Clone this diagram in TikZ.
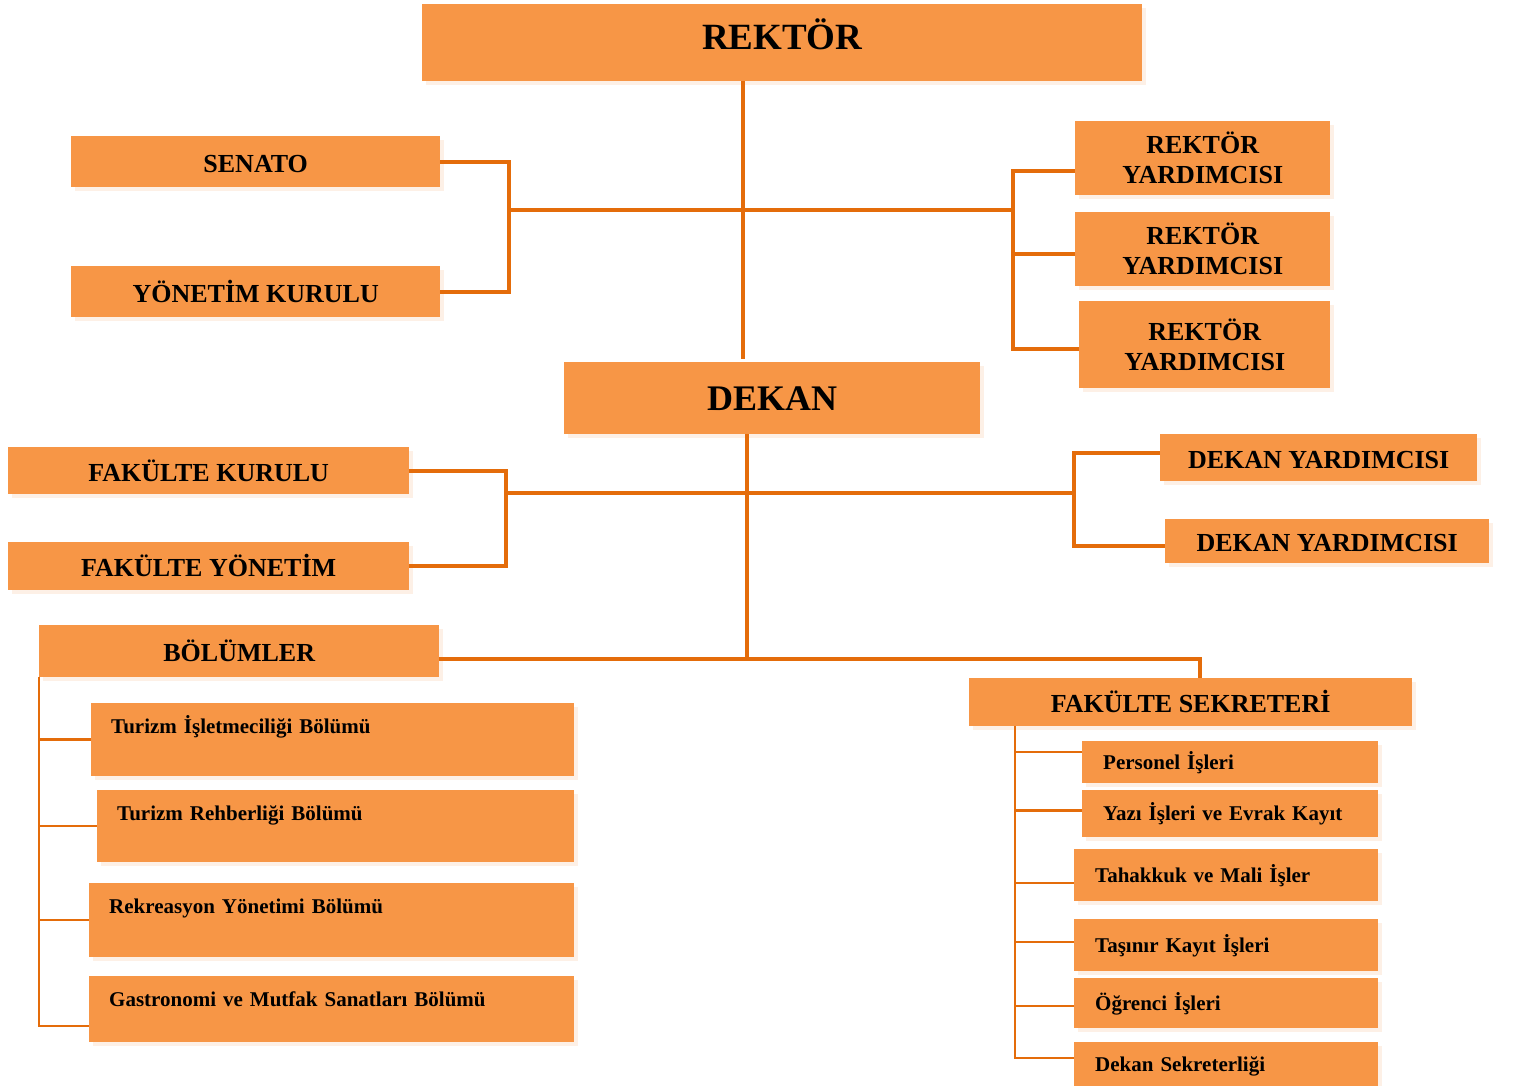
\documentclass[tikz,border=0pt]{standalone}
\usepackage{fontspec}
\setmainfont{Liberation Serif}
\usetikzlibrary{calc,shadows}
\definecolor{boxorange}{HTML}{F79646}
\definecolor{lineorange}{HTML}{E46C0A}
\definecolor{shadowpeach}{HTML}{FDF0E6}
\tikzset{
  unit/.style={fill=boxorange, anchor=north west, inner sep=0pt,
    general shadow={fill=shadowpeach, shadow xshift=4pt, shadow yshift=-4pt},
    font=\bfseries\fontsize{26}{30}\selectfont, align=center},
  caps/.style={text height=21pt, text depth=0pt},
  boxsize/.style 2 args={minimum width=#1pt, minimum height=#2pt},
  bolum/.style 2 args={unit, font=\bfseries\fontsize{21}{25}\selectfont,
    align=left, inner xsep=20pt, text width=#1pt, text height=30pt, text depth=#2pt},
  office/.style 2 args={unit, font=\bfseries\fontsize{21}{25}\selectfont,
    align=left, inner xsep=21pt, text width=#1pt, minimum height=#2pt,
    text height=14pt, text depth=0pt},
  trunk/.style={draw=lineorange, line width=4pt},
  twig/.style={draw=lineorange, line width=2.5pt}
}

\begin{document}
\begin{tikzpicture}[x=1pt,y=-1pt]
\useasboundingbox (0,0) rectangle (1515,1086);

% top level
\node[unit, boxsize={720}{77}, font=\bfseries\fontsize{37}{40}\selectfont,
  text height=45pt, text depth=32pt] (rektor) at (422,4) {REKTÖR};
\node[unit, caps, boxsize={369}{51}] (senato) at (71,136) {SENATO};
\node[unit, caps, boxsize={369}{51}] (ykurul) at (71,266) {YÖNETİM KURULU};
\node[unit, boxsize={255}{74}] (ry1) at (1075,121) {REKTÖR\\YARDIMCISI};
\node[unit, boxsize={255}{74}] (ry2) at (1075,212) {REKTÖR\\YARDIMCISI};
\node[unit, boxsize={251}{87}] (ry3) at (1079,301) {REKTÖR\\YARDIMCISI};

% faculty level
\node[unit, boxsize={416}{72}, font=\bfseries\fontsize{36}{40}\selectfont,
  text height=24pt, text depth=0pt] (dekan) at (564,362) {DEKAN};
\node[unit, caps, boxsize={401}{47}] (fkurul) at (8,447) {FAKÜLTE KURULU};
\node[unit, caps, boxsize={401}{48}] (fyon) at (8,542) {FAKÜLTE YÖNETİM};
\node[unit, caps, boxsize={317}{47}] (dy1) at (1160,434) {DEKAN YARDIMCISI};
\node[unit, caps, boxsize={324}{44}] (dy2) at (1165,519) {DEKAN YARDIMCISI};

% departments
\node[unit, caps, boxsize={400}{52}] (bolumler) at (39,625) {BÖLÜMLER};
\node[bolum={443}{43}] (b1) at (91,703) {Turizm İşletmeciliği Bölümü};
\node[bolum={437}{42}] (b2) at (97,790) {Turizm Rehberliği Bölümü};
\node[bolum={445}{44}] (b3) at (89,883) {Rekreasyon Yönetimi Bölümü};
\node[bolum={445}{36}] (b4) at (89,976) {Gastronomi ve Mutfak Sanatları Bölümü};

% secretary
\node[unit, caps, boxsize={443}{48}] (fsek) at (969,678) {FAKÜLTE SEKRETERİ};
\node[office={254}{42}] (s1) at (1082,741) {Personel İşleri};
\node[office={254}{47}] (s2) at (1082,790) {Yazı İşleri ve Evrak Kayıt};
\node[office={262}{52}] (s3) at (1074,849) {Tahakkuk ve Mali İşler};
\node[office={262}{52}] (s4) at (1074,919) {Taşınır Kayıt İşleri};
\node[office={262}{50}] (s5) at (1074,978) {Öğrenci İşleri};
\node[office={262}{44}] (s6) at (1074,1042) {Dekan Sekreterliği};

% junctions
\coordinate (lb) at (509,210);
\coordinate (mid) at (743,210);
\coordinate (rb) at (1013,210);
\coordinate (lb2) at (506,493);
\coordinate (rb2) at (1074,493);
\coordinate (dtrunk) at (747,659);
\coordinate (fst) at (1015,726);

% rector lines
\draw[trunk] (rektor.south -| mid) -- ([yshift=3pt]dekan.north -| mid);
\draw[trunk] (senato.east) -| (lb) |- (ykurul.east);
\draw[trunk] (lb) -- (rb);
\draw[trunk] ([yshift=-13pt]ry1.west) -| (rb) |- ([yshift=-4pt]ry3.west);
\draw[trunk] ([yshift=-5pt]ry2.west) -| (rb);

% dean lines
\draw[trunk] (dekan.south -| dtrunk) -- (dtrunk);
\draw[trunk] (fkurul.east) -| (lb2) |- (fyon.east);
\draw[trunk] (lb2) -- (rb2);
\draw[trunk] ([yshift=5pt]dy1.west) -| (rb2) |- ([yshift=-5pt]dy2.west);
\draw[trunk] (bolumler.east |- dtrunk) -| ([xshift=9pt]fsek.north);

% departments tree
\draw[twig] (bolumler.south west) |- ([yshift=-17pt]b4.west);
\foreach \b in {b1,b2,b3}
  \draw[twig] (bolumler.south west |- \b.west) -- (\b.west);

% secretary tree
\draw[twig] (fst) |- ([yshift=6pt]s6.west);
\foreach \s/\dy in {s1/10,s2/3,s3/-8,s4/3,s5/-3} {
  \coordinate (tip) at ([yshift=\dy pt]\s.west);
  \draw[twig] (fst |- tip) -- (tip);
}
\end{tikzpicture}
\end{document}
